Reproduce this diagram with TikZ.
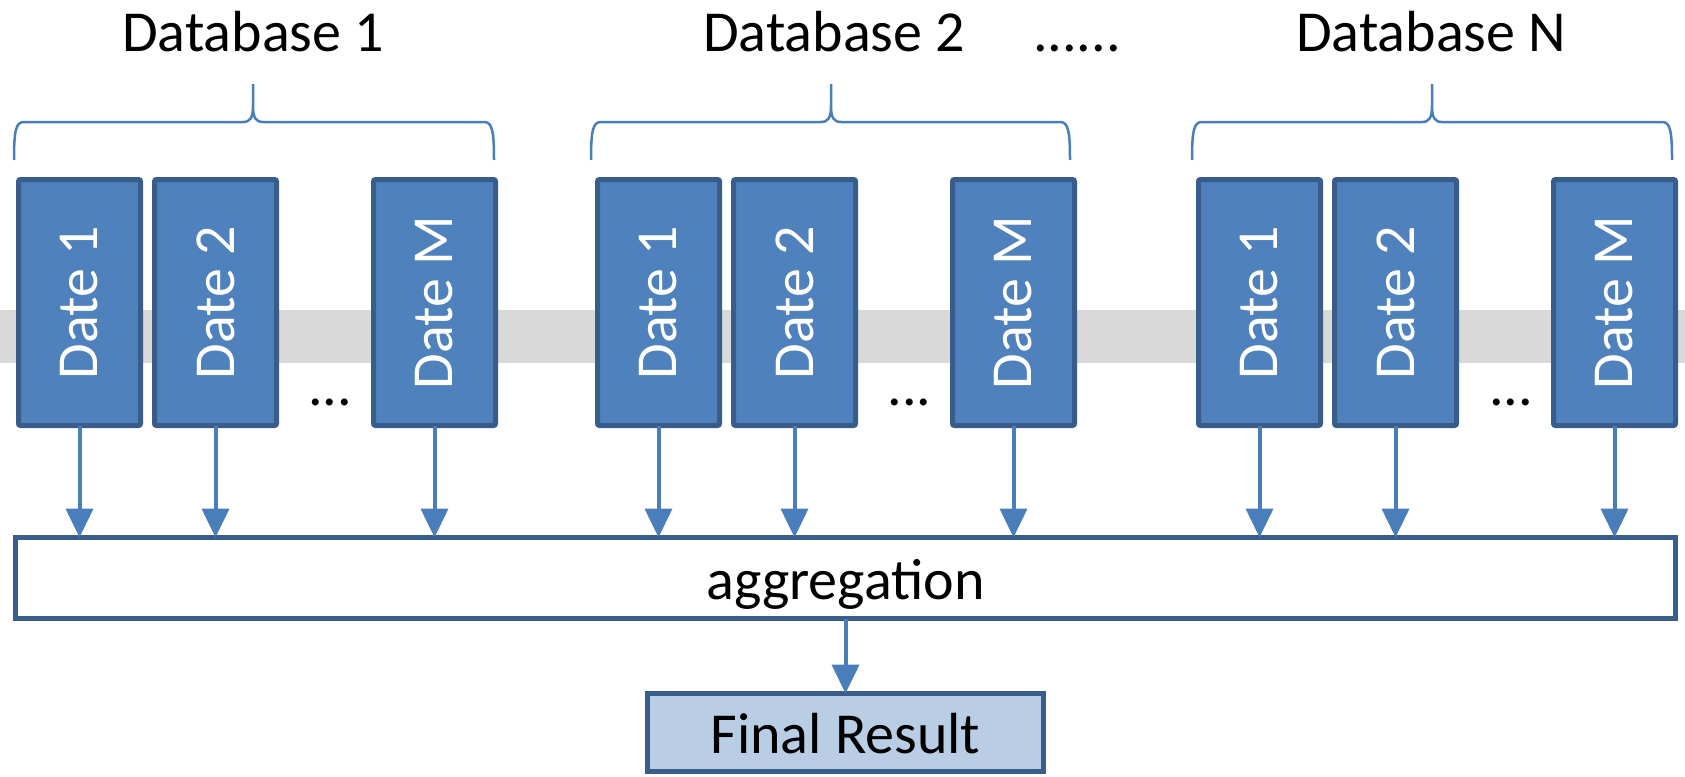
\documentclass[tikz,border=0pt]{standalone}
\usepackage{fontspec}
\usepackage{graphicx}
\setmainfont{Carlito}
\usetikzlibrary{arrows.meta}
\definecolor{boxfill}{HTML}{4F81BD}
\definecolor{boxline}{HTML}{385D8A}
\definecolor{arrowblue}{HTML}{4A7EBB}
\definecolor{bandgray}{HTML}{D9D9D9}
\definecolor{resultfill}{HTML}{B9CDE5}

\begin{document}
\begin{tikzpicture}[x=1pt, y=-1pt, inner sep=0, outer sep=0,
    font=\fontsize{58}{70}\selectfont,
    datebox/.style={rectangle, draw=boxline, fill=boxfill, line width=5pt,
      rounded corners=2pt, text=white, minimum width=122pt, minimum height=246pt},
    aggbox/.style={rectangle, draw=boxline, fill=white, line width=5pt,
      text height=42pt, text depth=0pt},
    flow/.style={draw=arrowblue, line width=4pt, -{Triangle[width=27pt, length=29pt]}},
    brace/.style={draw=arrowblue, line width=2.5pt}]
  \useasboundingbox (0,0) rectangle (1685,776);

  % grey band behind the date boxes
  \fill[bandgray] (0,310) rectangle (1685,363);

  % database 1
  \node[datebox] (a1) at (79.5,302.5) {\rotatebox{90}{Date 1}};
  \node[datebox] (a2) at ([xshift=136pt]a1.center) {\rotatebox{90}{Date 2}};
  \node[datebox] (am) at ([xshift=355pt]a1.center) {\rotatebox{90}{Date M}};
  \node (adots) at (330,402) {...};
  \node[anchor=base] (atitle) at (253,52) {Database 1};
  \draw[brace] (14,160) .. controls (14,130) and (16,122) .. (24,122) -- (243,122)
    .. controls (250,122) and (253,118) .. (253,106) -- (253,84)
    (253,106) .. controls (253,118) and (256,122) .. (263,122) -- (484,122)
    .. controls (492,122) and (494,130) .. (494,160);

  % database 2
  \node[datebox] (b1) at (658.5,302.5) {\rotatebox{90}{Date 1}};
  \node[datebox] (b2) at ([xshift=136pt]b1.center) {\rotatebox{90}{Date 2}};
  \node[datebox] (bm) at ([xshift=355pt]b1.center) {\rotatebox{90}{Date M}};
  \node (bdots) at (909.5,402) {...};
  \node[anchor=base] (btitle) at (834,52) {Database 2};
  \node[anchor=base] (gap) at (1077,52) {......};
  \draw[brace] (591,160) .. controls (591,130) and (593,122) .. (601,122) -- (821,122)
    .. controls (828,122) and (831,118) .. (831,106) -- (831,84)
    (831,106) .. controls (831,118) and (834,122) .. (841,122) -- (1060,122)
    .. controls (1068,122) and (1070,130) .. (1070,160);

  % database N
  \node[datebox] (c1) at (1259.5,302.5) {\rotatebox{90}{Date 1}};
  \node[datebox] (c2) at ([xshift=136pt]c1.center) {\rotatebox{90}{Date 2}};
  \node[datebox] (cm) at ([xshift=355pt]c1.center) {\rotatebox{90}{Date M}};
  \node (cdots) at (1511,402) {...};
  \node[anchor=base] (ctitle) at (1431,52) {Database N};
  \draw[brace] (1192,160) .. controls (1192,130) and (1194,122) .. (1202,122) -- (1422,122)
    .. controls (1429,122) and (1432,118) .. (1432,106) -- (1432,84)
    (1432,106) .. controls (1432,118) and (1435,122) .. (1442,122) -- (1662,122)
    .. controls (1670,122) and (1672,130) .. (1672,160);

  % aggregation and result
  \node[aggbox, minimum width=1660pt, minimum height=81pt] (agg) at (845.5,578) {aggregation};
  \node[aggbox, fill=resultfill, minimum width=396pt, minimum height=78pt] (final) at (845.5,732.5) {Final Result};

  \draw[flow] (a1.south) -- (a1.south |- agg.north);
  \draw[flow] (a2.south) -- (a2.south |- agg.north);
  \draw[flow] (am.south) -- (am.south |- agg.north);
  \draw[flow] (b1.south) -- (b1.south |- agg.north);
  \draw[flow] (b2.south) -- (b2.south |- agg.north);
  \draw[flow] (bm.south) -- (bm.south |- agg.north);
  \draw[flow] (c1.south) -- (c1.south |- agg.north);
  \draw[flow] (c2.south) -- (c2.south |- agg.north);
  \draw[flow] (cm.south) -- (cm.south |- agg.north);
  \draw[flow] (agg.south) -- (final.north);
\end{tikzpicture}
\end{document}
